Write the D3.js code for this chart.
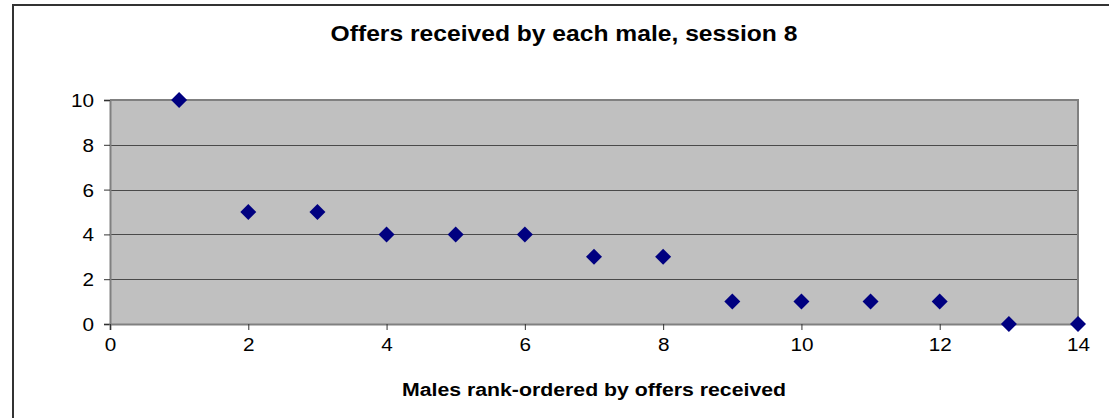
<!DOCTYPE html>
<html><head><meta charset="utf-8">
<script src="https://cdn.jsdelivr.net/npm/d3@7"></script>
<style>body{margin:0;background:#fff}svg{display:block}</style>
</head><body>
<script>
const ranks = [1,2,3,4,5,6,7,8,9,10,11,12,13,14];
const offers = [10,5,5,4,4,4,3,3,1,1,1,1,0,0];
const xTicks = [0,2,4,6,8,10,12,14];
const yTicks = [0,2,4,6,8,10];
const title = "Offers received by each male, session 8";
const xTitle = "Males rank-ordered by offers received";

const W = 1109, H = 418;
const m = {left:110, right:1078, top:100, bottom:324};
const SX = 1.12;
const svg = d3.select("body").append("svg").attr("width",W).attr("height",H);
const font = "Arial, 'Liberation Sans', sans-serif";

svg.append("path").attr("d",`M13,${H+2} V5 H${W+2}`).attr("fill","none").attr("stroke","#333").attr("stroke-width",2);

const x = d3.scaleLinear().domain([0,14]).range([m.left,m.right]);
const y = d3.scaleLinear().domain([0,10]).range([m.bottom,m.top]);

svg.append("rect").attr("x",m.left).attr("y",m.top).attr("width",m.right-m.left).attr("height",m.bottom-m.top).attr("fill","#C0C0C0");

svg.append("g").selectAll("line").data(yTicks.filter(d=>d>0&&d<10)).join("line")
  .attr("x1",m.left).attr("x2",m.right).attr("y1",d=>Math.round(y(d))+0.5).attr("y2",d=>Math.round(y(d))+0.5)
  .attr("stroke","#4a4a4a").attr("stroke-width",1);
svg.append("path").attr("d",`M${m.left},${m.top} H${m.right} V${m.bottom}`).attr("fill","none").attr("stroke","#808080").attr("stroke-width",2);

const yAxis = d3.axisLeft(y).tickValues(yTicks).tickSize(6).tickPadding(0);
const gy = svg.append("g").attr("transform",`translate(${m.left},0)`).call(yAxis);
const xAxis = d3.axisBottom(x).tickValues(xTicks).tickSize(6).tickPadding(0);
const gx = svg.append("g").attr("transform",`translate(0,${m.bottom})`).call(xAxis);
[gx,gy].forEach(g=>{
  g.select(".domain").attr("stroke","#808080").attr("stroke-width",2);
  g.selectAll(".tick line").attr("stroke","#333");
  g.selectAll(".tick text").attr("font-family",font).attr("font-size",18.5).attr("fill","#000");
});
gy.selectAll(".tick text").attr("x",-16/SX).attr("dy","0.35em").attr("transform",`scale(${SX},1)`);
gx.selectAll(".tick text").attr("y",27).attr("dy","0").attr("transform",`scale(${SX},1)`);

svg.append("g").selectAll("path").data(ranks.map((r,i)=>[r,offers[i]])).join("path")
  .attr("transform",d=>`translate(${x(d[0])},${y(d[1])})`)
  .attr("d","M0,-8 L8,0 L0,8 L-8,0 Z").attr("fill","#000080");

svg.append("text").attr("transform",`translate(564,41) scale(${SX},1)`).attr("text-anchor","middle")
  .attr("font-family",font).attr("font-weight","bold").attr("font-size",22).text(title);
svg.append("text").attr("transform",`translate(594,396) scale(${SX},1)`).attr("text-anchor","middle")
  .attr("font-family",font).attr("font-weight","bold").attr("font-size",19).text(xTitle);
</script>
</body></html>
